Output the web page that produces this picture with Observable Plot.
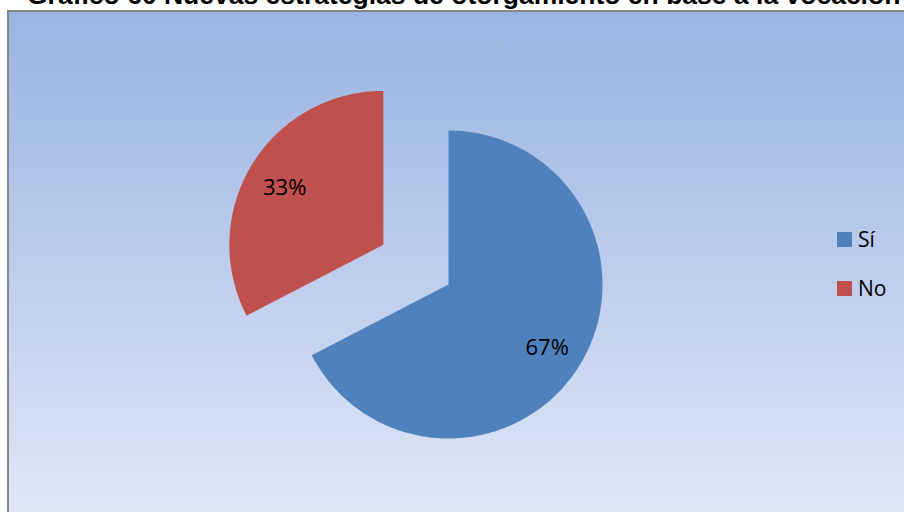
<!DOCTYPE html>
<html>
<head>
<meta charset="utf-8">
<script src="https://cdn.jsdelivr.net/npm/d3@7"></script>
<script src="https://cdn.jsdelivr.net/npm/@observablehq/plot@0.6"></script>
<style>
  html, body { margin: 0; padding: 0; background: #ffffff; }
  #wrap { position: relative; width: 904px; height: 512px; overflow: hidden; background: #ffffff; }
  #title { position: absolute; left: 27px; top: -18px; white-space: nowrap;
    font-family: "Liberation Sans", Arial, sans-serif; font-weight: bold; font-size: 26.5px; line-height: 26.5px; color: #000; }
  #box { position: absolute; left: 7px; top: 10px; width: 1000px; height: 600px;
    border-left: 2px solid #878787; border-top: 2px solid #878787;
    background: linear-gradient(to bottom, #9ab4e2 0px, #c3d1ee 300px, #e1e7f5 502px); }
  #chart { position: absolute; left: 0; top: 0; }
  #legend { position: absolute; left: 837px; top: 232px; font-family: "Open Sans", sans-serif; font-size: 21px; color: #000; }
  .item { position: absolute; left: 0; display: flex; align-items: center; height: 15px; white-space: nowrap; }
  .sw { width: 15px; height: 15px; margin-right: 6px; }
  .item span { line-height: 15px; }
</style>
</head>
<body>
<div id="wrap">
  <div id="title"></div>
  <div id="box"></div>
  <div id="chart"></div>
  <div id="legend"></div>
</div>
<script>
const titleText = "Gráfico 60 Nuevas estrategias de otorgamiento en base a la vocación";
const categories = ["Sí", "No"];
const values = [67.4, 32.6];
const labels = ["67%", "33%"];
const colors = ["#4f81bd", "#c0504d"];
const explode = [0, 0.495];

document.getElementById("title").textContent = titleText;

const rows = categories.map((c, i) => ({cat: c, value: values[i], label: labels[i], color: colors[i], explode: explode[i]}));
const arcs = d3.pie().sort(null).value(d => d.value)(rows);

// slice outlines (unit radius) and label anchors
const slicePts = [];
const labelPts = [];
arcs.forEach(a => {
  const r = a.data;
  const mid = (a.startAngle + a.endAngle) / 2;
  const ox = r.explode * Math.sin(mid), oy = r.explode * Math.cos(mid);
  slicePts.push({cat: r.cat, x: ox, y: oy});
  const n = 200;
  for (let k = 0; k <= n; k++) {
    const t = a.startAngle + (a.endAngle - a.startAngle) * k / n;
    slicePts.push({cat: r.cat, x: ox + Math.sin(t), y: oy + Math.cos(t)});
  }
  slicePts.push({cat: r.cat, x: ox, y: oy});
  labelPts.push({label: r.label, x: ox + 0.75 * Math.sin(mid), y: oy + 0.75 * Math.cos(mid)});
});

const R = 154;
const plot = Plot.plot({
  width: 904,
  height: 512,
  margin: 0,
  style: {background: "transparent", overflow: "visible"},
  x: {domain: [-448 / R, 456 / R], axis: null},
  y: {domain: [-228 / R, 284 / R], axis: null},
  marks: [
    ...rows.map(r => Plot.line(slicePts.filter(p => p.cat === r.cat), {x: "x", y: "y", fill: r.color, stroke: "none"})),
    Plot.text(labelPts, {x: "x", y: "y", dy: 3, text: "label", fontSize: 22, fontFamily: "Open Sans", fill: "#000"})
  ]
});
document.getElementById("chart").appendChild(plot);

const legend = document.getElementById("legend");
rows.forEach((r, i) => {
  const it = document.createElement("div");
  it.className = "item";
  it.style.top = (i * 49) + "px";
  const sw = document.createElement("div");
  sw.className = "sw";
  sw.style.background = r.color;
  const sp = document.createElement("span");
  sp.textContent = r.cat;
  it.appendChild(sw); it.appendChild(sp);
  legend.appendChild(it);
});
</script>
</body>
</html>
